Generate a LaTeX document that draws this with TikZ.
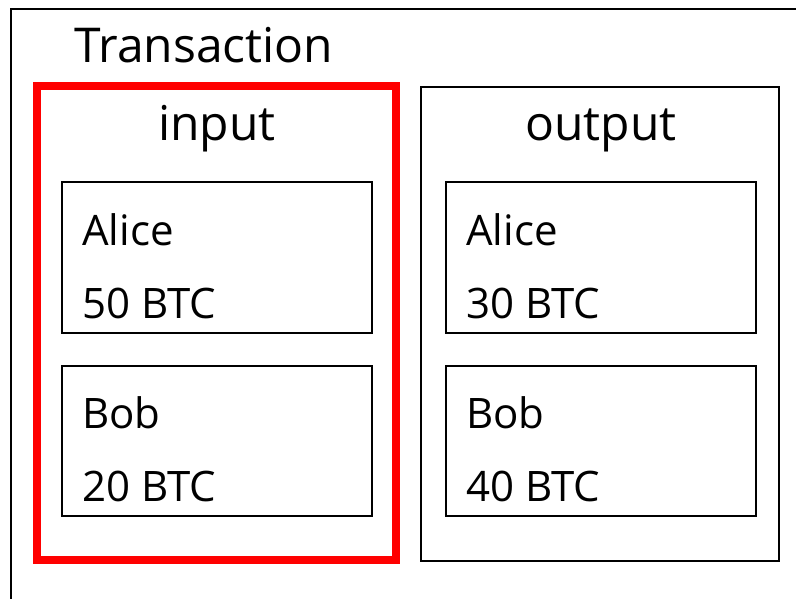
\documentclass[tikz,border=0pt]{standalone}
\usepackage{fontspec}
\setmainfont{Open Sans}
\begin{document}
\begin{tikzpicture}[x=1pt,y=-1pt,
  box/.style={draw=black,line width=2pt,inner sep=0pt,outer sep=0pt},
  sel/.style={draw=red,line width=8pt,inner sep=0pt,outer sep=0pt},
  lbl/.style={inner sep=0pt,anchor=base west,font=\fontsize{42}{50}\selectfont},
  head/.style={inner sep=0pt,anchor=base,font=\fontsize{48}{56}\selectfont}]
\useasboundingbox (0,0) rectangle (796,599);
\clip (0,0) rectangle (796,599);
\fill[white] (0,0) rectangle (796,599);
% transaction frame, running past the right and bottom edges
\node[box,minimum width=840pt,minimum height=640pt,anchor=north west] (tx) at (11,9) {};
\node[inner sep=0pt,anchor=base west,font=\fontsize{48}{56}\selectfont] (txt) at (74,63) {Transaction};
% input column
\node[sel,minimum width=359.5pt,minimum height=473.5pt] (in) at (216.25,323.25) {};
\node[head] (intxt) at (217,141) {input};
\node[box,minimum width=310pt,minimum height=151pt] (ina) at (217,257.5) {};
\node[lbl] (inaname) at (82,245) {Alice};
\node[lbl] (inaamt) at (82,318) {50 BTC};
\node[box,minimum width=310pt,minimum height=150pt] (inb) at (217,441) {};
\node[lbl] (inbname) at (82,428) {Bob};
\node[lbl] (inbamt) at (82,501) {20 BTC};
% output column
\node[box,minimum width=358pt,minimum height=474pt] (out) at (600,323.8) {};
\node[head] (outtxt) at (601,141) {output};
\node[box,minimum width=310pt,minimum height=151pt] (outa) at (601,257.5) {};
\node[lbl] (outaname) at (466,245) {Alice};
\node[lbl] (outaamt) at (466,318) {30 BTC};
\node[box,minimum width=310pt,minimum height=150pt] (outb) at (601,441) {};
\node[lbl] (outbname) at (466,428) {Bob};
\node[lbl] (outbamt) at (466,501) {40 BTC};
\end{tikzpicture}
\end{document}
